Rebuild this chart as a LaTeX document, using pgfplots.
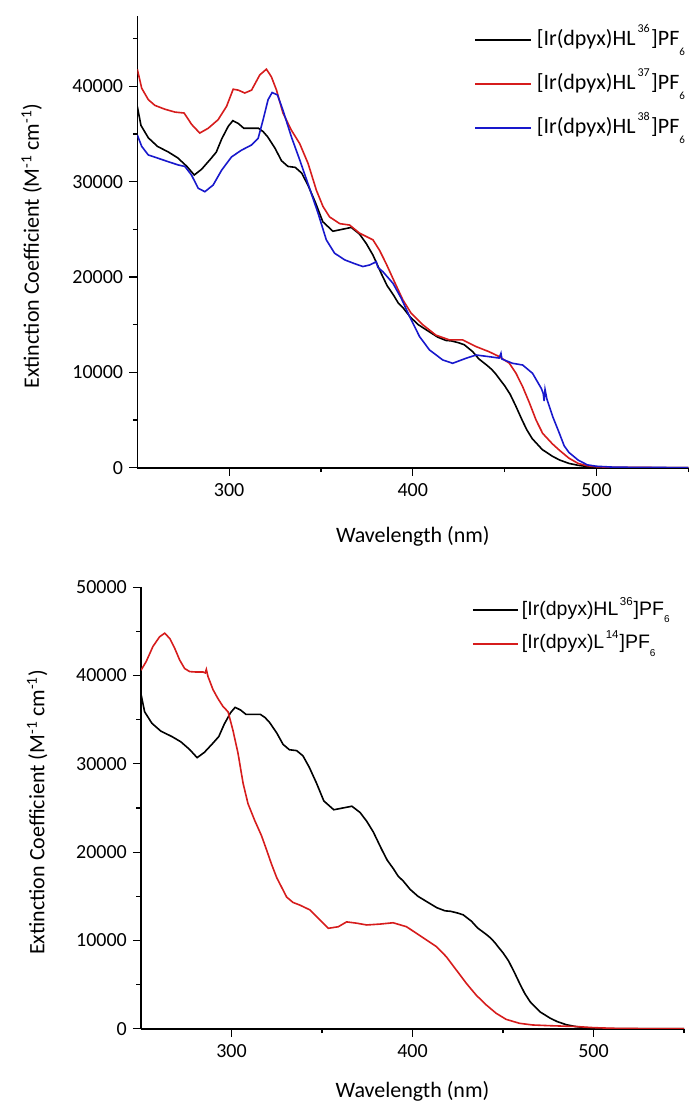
\documentclass[border=0pt]{standalone}
\usepackage{fontspec}
\setmainfont{Carlito}
\newfontfamily\arialfont{Liberation Sans}
\usepackage{pgfplots}
\pgfplotsset{compat=1.18}
\definecolor{myred}{RGB}{214,28,28}
\definecolor{myblue}{RGB}{24,24,204}
\newcommand{\supA}[1]{\hspace{2bp}\raisebox{12.3bp}{\fontsize{12bp}{12bp}\selectfont #1}\hspace{1.5bp}}
\newcommand{\subA}[1]{\raisebox{-10bp}{\fontsize{11bp}{11bp}\selectfont #1}}
\newcommand{\supB}[1]{\hspace{1.5bp}\raisebox{10bp}{\fontsize{11.5bp}{11.5bp}\selectfont #1}\hspace{1bp}}
\newcommand{\subB}[1]{\raisebox{-7.5bp}{\fontsize{10bp}{10bp}\selectfont #1}}

\pgfplotstableread{
x y
250 37900
252 35900
256 34600
261 33700
267 33100
272 32500
277 31600
281 30700
285 31300
290 32400
293 33100
296 34500
299.5 35800
302 36400
305 36100
308 35600
311 35600
316 35600
318.5 35250
321 34700
325 33500
328.5 32200
332 31600
336 31500
339.5 30900
343 29600
347 27800
351 25800
356.5 24800
361.5 25000
366.5 25200
371 24500
374.7 23500
378.3 22300
383 20300
386 19100
389.5 18100
392 17300
395 16700
398.6 15800
403 15000
407 14500
413.5 13700
418 13350
421 13300
425 13100
428 12900
432.6 12170
436 11400
440 10800
443 10300
445.3 9800
448 9100
450 8600
453 7700
456 6500
459.5 5000
462 4000
465 3050
470.5 1900
476 1200
480 800
485 450
490 250
495 120
500 50
505 10
520 0
550 0
}\blackdata

\pgfplotstableread{
x y
250 41800
252.4 39800
256 38600
259.6 38000
265 37600
270.5 37300
275.5 37200
279.6 36000
284 35100
288.6 35600
294 36500
298.6 37900
302.2 39700
305 39600
308.5 39300
312.2 39600
316.7 41200
320.3 41800
323 41000
325.8 39600
329.3 37200
333.9 35400
338.4 34000
343 31900
347.5 29100
351.1 27400
354.7 26300
360.2 25600
365.6 25450
371 24600
378.3 23900
381.9 22800
385.5 21400
390 19500
394.6 17600
399.1 16200
405.4 15000
412.6 13900
420 13400
427.2 13400
434.5 12700
441.7 12150
447.1 11650
452.6 10950
456.2 9900
459.8 8500
463.5 6800
467.1 5000
470.7 3600
476 2500
480 1800
485 1000
490 450
495 200
500 100
510 30
550 0
}\redtop

\pgfplotstableread{
x y
250 34900
252.4 33700
256 32800
261.4 32450
266.8 32100
272.3 31750
275.9 31600
279.5 30700
283.2 29300
286.8 28950
291.3 29650
295.9 31200
301.3 32600
306.7 33300
312.2 33850
315.8 34550
318.5 36500
321.2 38600
323.4 39350
326.3 39100
329.3 37500
333.9 34700
338.4 32300
342.9 29800
348.4 26700
352.9 23900
357.4 22500
362.9 21800
368.3 21400
372.8 21100
376.5 21260
380.1 21600
381 21000
383.7 20560
389.2 19340
393.7 17770
398.3 15840
403.7 13740
409.1 12350
416.3 11300
421.7 10950
429 11480
434.5 11820
441.7 11640
447 11500
448 12000
448.5 11400
454.3 10950
459.8 10770
465.2 9900
470 8300
471 7800
471.5 7000
472 8200
473 7200
476.2 5350
479.8 3610
482.4 2300
485 1600
490 800
495 300
500 150
510 50
550 0
}\bluetop

\pgfplotstableread{
x y
250 40600
252.9 41600
256.6 43300
260.3 44400
263.1 44800
265.9 44200
268.6 43100
271.4 41750
274.1 40800
276.9 40450
280.6 40400
284.3 40400
285.5 40300
286.1 40700
287 39900
289.8 38400
292.5 37400
295.3 36500
298.1 35900
300.8 33800
303.6 31200
306.4 27800
309.1 25500
312.8 23600
316.5 21900
319.3 20300
322 18700
325 17100
330.5 14900
334 14300
337.8 14000
343.4 13450
348.9 12300
353.5 11370
359 11550
363.6 12100
369.2 11950
374.7 11750
382 11850
389.3 12000
396.7 11550
402.2 10800
407.7 10050
413.2 9300
418.7 8150
424.2 6650
429.7 5150
435.2 3800
440.7 2700
446.2 1750
451.7 1060
459.1 610
466.5 420
476 340
485 280
490 250
500 120
510 50
520 20
550 0
}\redbottom

\begin{document}
\begin{tikzpicture}
\useasboundingbox (0,0) rectangle (689bp,1103bp);
\pgfplotsset{
  common/.style={
    scale only axis,
    axis x line*=bottom, axis y line*=left,
    axis line style={-},
    xmin=250, xmax=550, ymin=0,
    xtick={300,400,500},
    minor xtick={350,450,550},
    tick align=outside,
    major tick length=8bp, minor tick length=4.5bp,
    tick style={line width=1.2bp, black},
    scaled y ticks=false,
    /pgf/number format/assume math mode=true,
    /pgf/number format/set thousands separator={},
    ticklabel style={font=\fontsize{20bp}{24bp}\selectfont},
    yticklabel style={inner sep=0pt, anchor=east, xshift=-6bp},
    xticklabel style={inner sep=0pt, anchor=north, yshift=-8bp},
    ylabel={Extinction Coefficient (M\textsuperscript{-1} cm\textsuperscript{-1})},
    xlabel={Wavelength (nm)},
    legend cell align=left,
  },
}
% top panel
\begin{axis}[common,
  at={(137.3bp,635.3bp)}, anchor=south west,
  width=551bp, height=451.9bp,
  ymax=47400,
  ytick={0,10000,20000,30000,40000},
  minor ytick={5000,15000,25000,35000,45000},
  x axis line style={line width=1.7bp},
  y axis line style={line width=1.1bp},
  every axis y label/.style={at={(axis description cs:-0.1784,0.49)}, rotate=90, anchor=base, font=\fontsize{22bp}{26bp}\selectfont},
  every axis x label/.style={at={(axis description cs:0.5,0)}, anchor=center, yshift=-68.5bp, font=\fontsize{22bp}{26bp}\selectfont},
  legend image code/.code={\draw[#1] (0bp,0bp) -- (55.7bp,0bp);},
  legend style={draw=none, fill=none, at={(rel axis cs:0.6116,0.9686)}, anchor=north west,
    inner sep=0pt, row sep=24bp, column sep=5bp,
    font=\fontsize{22bp}{26bp}\selectfont,
    nodes={inner sep=0pt, text height=15bp, text depth=5bp}},
]
\addplot[black, line width=1.6bp] table {\blackdata};
\addlegendentry{[Ir(dpyx)HL\supA{36}]PF\subA{6}}
\addplot[myred, line width=1.6bp] table {\redtop};
\addlegendentry{[Ir(dpyx)HL\supA{37}]PF\subA{6}}
\addplot[myblue, line width=1.6bp] table {\bluetop};
\addlegendentry{[Ir(dpyx)HL\supA{38}]PF\subA{6}}
\end{axis}
% bottom panel
\begin{axis}[common,
  at={(141bp,74.3bp)}, anchor=south west,
  width=543bp, height=441.4bp,
  ymax=50000,
  ytick={0,10000,20000,30000,40000,50000},
  minor ytick={5000,15000,25000,35000,45000},
  x axis line style={line width=1.7bp},
  y axis line style={line width=2.2bp},
  every axis y label/.style={at={(axis description cs:-0.1781,0.49)}, rotate=90, anchor=base, font=\fontsize{22bp}{26bp}\selectfont},
  every axis x label/.style={at={(axis description cs:0.5,0)}, anchor=center, yshift=-62.6bp, font=\fontsize{22bp}{26bp}\selectfont},
  legend image code/.code={\draw[#1, line width=1.8bp] (0bp,0bp) -- (45bp,0bp);},
  legend style={draw=none, fill=none, at={(rel axis cs:0.609,0.9712)}, anchor=north west,
    inner sep=0pt, row sep=13.7bp, column sep=3.3bp,
    font=\arialfont\fontsize{19.5bp}{23bp}\selectfont,
    nodes={inner sep=0pt, text height=15bp, text depth=5bp}},
]
\addplot[black, line width=1.6bp] table {\blackdata};
\addlegendentry{[Ir(dpyx)HL\supB{36}]PF\subB{6}}
\addplot[myred, line width=1.6bp] table {\redbottom};
\addlegendentry{[Ir(dpyx)L\supB{14}]PF\subB{6}}
\end{axis}
\end{tikzpicture}
\end{document}
